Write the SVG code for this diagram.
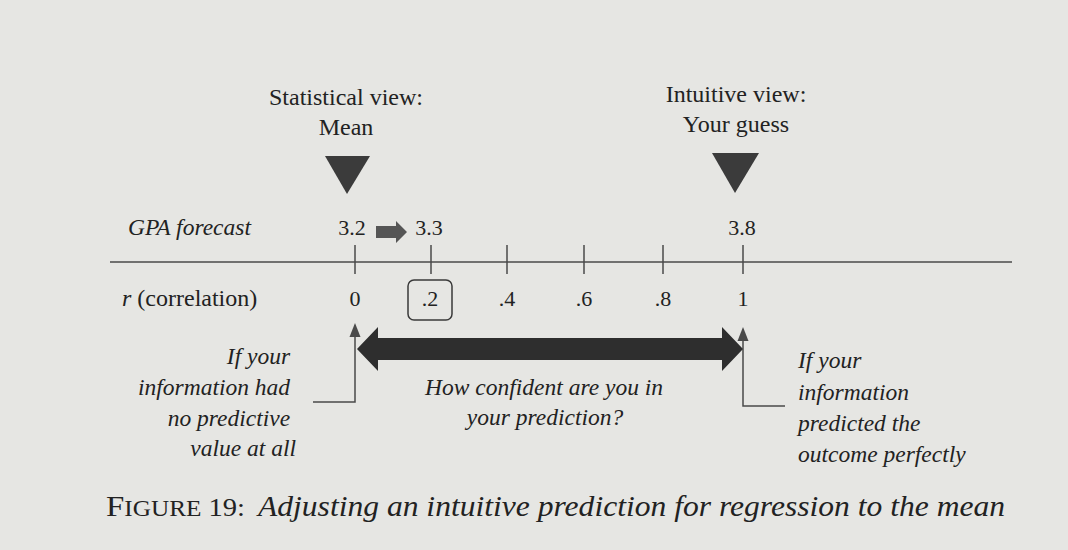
<svg xmlns="http://www.w3.org/2000/svg" width="1068" height="550" viewBox="0 0 1068 550">
  <style>
    .t { font-family: "Liberation Serif", "DejaVu Serif", serif; fill: #222; }
    .up { font-size: 24px; }
    .it { font-size: 23.5px; font-style: italic; }
    .num { font-size: 22px; }
    .thin { stroke: #4a4a4a; stroke-width: 1.5; fill: none; }
  </style>
  <rect x="0" y="0" width="1068" height="550" fill="#e6e6e3"/>

  <g id="connectors">
    <line class="thin" x1="110" y1="262" x2="1012" y2="262"/>
    <g class="thin">
      <line x1="355" y1="245" x2="355" y2="274"/>
      <line x1="431" y1="245" x2="431" y2="274"/>
      <line x1="507" y1="245" x2="507" y2="274"/>
      <line x1="584" y1="245" x2="584" y2="274"/>
      <line x1="663" y1="245" x2="663" y2="274"/>
      <line x1="743" y1="245" x2="743" y2="274"/>
    </g>
    <polyline class="thin" points="313,402 355,402 355,336" />
    <path d="M355 323 L360.5 337 L349.5 337 Z" fill="#4a4a4a"/>
    <polyline class="thin" points="785,406 743,406 743,340" />
    <path d="M743 327 L748.5 341 L737.5 341 Z" fill="#4a4a4a"/>
    <polygon id="gpaArrow" points="376,226 396,226 396,221 407,232 396,243 396,238 376,238" fill="#555"/>
    <polygon id="confidence" points="357,349 378,327 378,338 722,338 722,327 743,349 722,371 722,360 378,360 378,371" fill="#2e2e2e"/>
  </g>

  <g id="statistical-view">
    <text class="t up" x="346" y="105" text-anchor="middle">Statistical view:</text>
    <text class="t up" x="346" y="135" text-anchor="middle">Mean</text>
    <polygon points="325,156 370,156 347,194" fill="#3b3b3b"/>
  </g>

  <g id="intuitive-view">
    <text class="t up" x="736" y="102" text-anchor="middle">Intuitive view:</text>
    <text class="t up" x="736" y="132" text-anchor="middle">Your guess</text>
    <polygon points="712,153 759,153 735,193" fill="#3b3b3b"/>
  </g>

  <g id="gpa-row">
    <text class="t it" x="128" y="235">GPA forecast</text>
    <text class="t num" x="352" y="235" text-anchor="middle">3.2</text>
    <text class="t num" x="429" y="235" text-anchor="middle">3.3</text>
    <text class="t num" x="742" y="235" text-anchor="middle">3.8</text>
  </g>

  <g id="correlation-row">
    <text class="t up" x="122" y="306"><tspan font-style="italic">r</tspan> (correlation)</text>
    <text class="t num" x="355" y="306" text-anchor="middle">0</text>
    <rect x="408" y="280" width="44" height="40" rx="6" fill="none" stroke="#3a3a3a" stroke-width="1.5"/>
    <text class="t num" x="430" y="306" text-anchor="middle">.2</text>
    <text class="t num" x="507" y="306" text-anchor="middle">.4</text>
    <text class="t num" x="584" y="306" text-anchor="middle">.6</text>
    <text class="t num" x="663" y="306" text-anchor="middle">.8</text>
    <text class="t num" x="743" y="306" text-anchor="middle">1</text>
  </g>

  <g id="no-value-note">
    <text class="t it" text-anchor="end">
      <tspan x="296" y="364">If your</tspan>
      <tspan x="296" y="395">information had</tspan>
      <tspan x="296" y="426">no predictive</tspan>
      <tspan x="296" y="456">value at all</tspan>
    </text>
  </g>

  <g id="confidence-note">
    <text class="t it" text-anchor="middle">
      <tspan x="547" y="395">How confident are you in</tspan>
      <tspan x="545" y="425">your prediction?</tspan>
    </text>
  </g>

  <g id="perfect-note">
    <text class="t it">
      <tspan x="798" y="368">If your</tspan>
      <tspan x="798" y="400">information</tspan>
      <tspan x="798" y="431">predicted the</tspan>
      <tspan x="798" y="462">outcome perfectly</tspan>
    </text>
  </g>

  <g id="caption">
    <text class="t" x="106" y="516" font-size="30" textLength="139" lengthAdjust="spacingAndGlyphs"><tspan>F</tspan><tspan font-size="23">IGURE</tspan><tspan font-size="26"> 19:</tspan></text>
    <text class="t" x="258" y="516" font-size="30" font-style="italic" textLength="747" lengthAdjust="spacingAndGlyphs">Adjusting an intuitive prediction for regression to the mean</text>
  </g>
</svg>
